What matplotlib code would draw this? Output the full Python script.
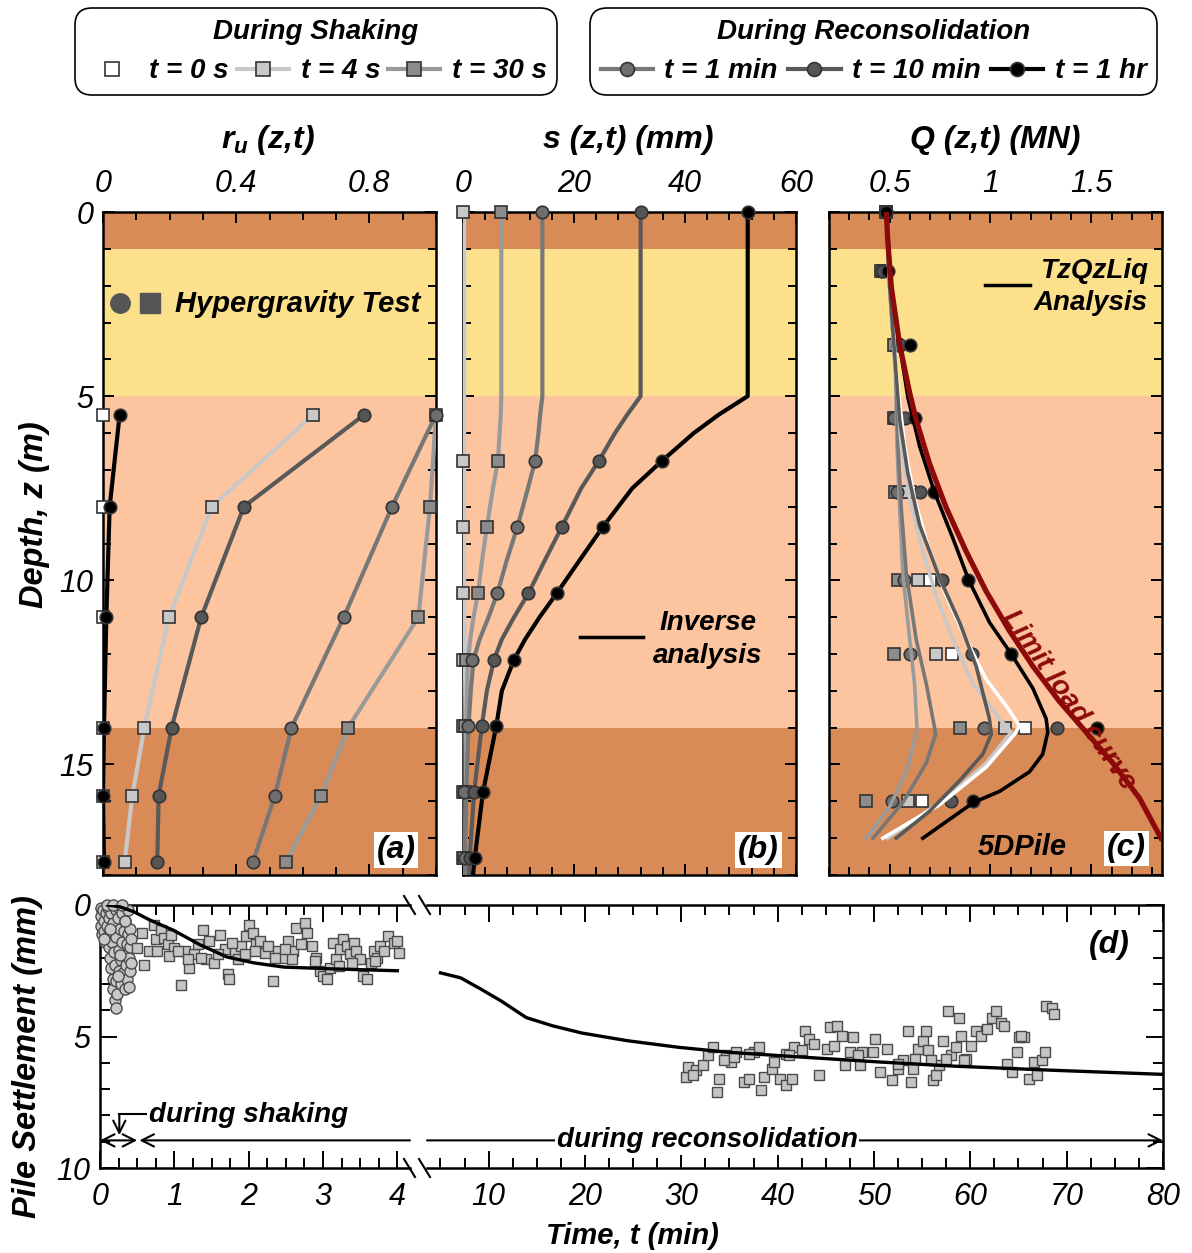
import matplotlib
matplotlib.use('Agg')
import matplotlib.pyplot as plt
from matplotlib.lines import Line2D
from matplotlib.ticker import MultipleLocator, FuncFormatter
from matplotlib.font_manager import FontProperties

plt.rcParams['font.family'] = ['Liberation Sans', 'DejaVu Sans']
plt.rcParams['font.style'] = 'italic'
plt.rcParams['mathtext.fontset'] = 'custom'
plt.rcParams['mathtext.it'] = 'Liberation Sans:italic:bold'
plt.rcParams['mathtext.rm'] = 'Liberation Sans:bold'
plt.rcParams['xtick.labelsize'] = 22
plt.rcParams['ytick.labelsize'] = 22

# ---- soil layers (depth, m) ----
layer_top = [0, 1, 5, 14]
layer_bot = [1, 5, 14, 18]
layer_color = ['#d98b57', '#fde08b', '#fcc5a0', '#d98b57']

# ---- (a) excess pore pressure ratio ----
depth_a = [5.5, 8.0, 11.0, 14.0, 15.85, 17.65]
ru_0s = [0.0, 0.0, 0.0, 0.0, 0.0, 0.0]
ru_4s = [0.632, 0.327, 0.198, 0.124, 0.088, 0.065]
ru_30s = [1.0, 0.982, 0.947, 0.736, 0.655, 0.549]
ru_1min = [1.0, 0.868, 0.723, 0.566, 0.516, 0.450]
ru_10min = [0.785, 0.423, 0.295, 0.206, 0.167, 0.163]
ru_1hr = [0.050, 0.020, 0.010, 0.003, 0.0, 0.003]

# ---- (b) settlement profiles ----
depth_b = [0, 6.75, 8.55, 10.35, 12.15, 13.95, 15.75, 17.55]
s_4s = [0.0, 0.0, 0.0, 0.0, 0.0, 0.0, 0.0, 0.0]
s_30s = [6.9, 6.3, 4.3, 2.7, 0.5, 0.3, 0.3, 0.2]
s_1min = [14.3, 13.0, 9.8, 6.2, 1.7, 0.9, 0.2, 0.3]
s_10min = [32.0, 24.5, 17.8, 11.8, 5.6, 3.4, 2.0, 1.2]
s_1hr = [51.3, 35.9, 25.2, 16.9, 9.2, 6.0, 3.6, 2.1]

inv_depth = [0, 5.0, 5.5, 6.0, 6.75, 7.5, 8.55, 9.5, 10.35, 11.0, 11.6, 12.15, 13.0, 13.95, 15.75, 17.55, 18.0]
inv_4s = [0.2, 0.2, 0.2, 0.2, 0.2, 0.2, 0.2, 0.2, 0.2, 0.25, 0.3, 0.35, 0.4, 0.45, 0.5, 0.5, 0.5]
inv_30s = [6.9, 6.9, 6.8, 6.6, 6.3, 5.4, 4.3, 3.4, 2.7, 1.9, 1.3, 0.9, 0.7, 0.6, 0.5, 0.4, 0.4]
inv_1min = [14.3, 14.3, 13.9, 13.6, 13.0, 11.7, 9.8, 7.8, 6.2, 4.6, 3.0, 1.9, 1.4, 1.0, 0.6, 0.4, 0.4]
inv_10min = [32.0, 32.0, 29.6, 27.4, 24.5, 21.3, 17.8, 14.6, 11.8, 9.2, 7.0, 5.6, 4.3, 3.4, 2.0, 1.2, 1.1]
inv_1hr = [51.3, 51.3, 46.1, 41.6, 35.9, 30.5, 25.2, 20.8, 16.9, 13.8, 11.2, 9.2, 7.0, 6.0, 3.6, 2.1, 1.8]

# ---- (c) axial load profiles ----
depth_c = [0, 1.6, 3.6, 5.6, 7.6, 10, 12, 14, 16]
q_0s = [0.48, 0.47, 0.53, 0.53, 0.60, 0.70, 0.81, 1.17, 0.66]
q_4s = [0.48, 0.47, 0.53, 0.53, 0.58, 0.64, 0.73, 1.07, 0.59]
q_30s = [0.48, 0.46, 0.52, 0.52, 0.525, 0.54, 0.52, 0.85, 0.385]
q_1min = [0.48, 0.46, 0.54, 0.52, 0.535, 0.57, 0.60, 0.97, 0.51]
q_10min = [0.48, 0.47, 0.55, 0.575, 0.65, 0.76, 0.91, 1.33, 0.805]
q_1hr = [0.48, 0.49, 0.60, 0.625, 0.72, 0.89, 1.10, 1.53, 0.915]

tz_1hr_z = [0, 2.05, 3.6, 5.04, 6.36, 7.61, 8.86, 10.0, 11.14, 12.0, 12.93, 13.76, 14.12, 14.72, 15.2, 15.73, 16.03, 17.0]
tz_1hr_q = [0.484, 0.509, 0.55, 0.591, 0.649, 0.723, 0.814, 0.893, 0.995, 1.103, 1.21, 1.276, 1.284, 1.259, 1.193, 1.045, 0.916, 0.665]
tz_10min_z = [0, 2.0, 4.44, 5.64, 7.07, 8.5, 9.94, 11.14, 12.33, 13.76, 14.18, 14.72, 15.44, 16.27, 17.0]
tz_10min_q = [0.484, 0.50, 0.533, 0.55, 0.59, 0.649, 0.748, 0.847, 0.929, 0.995, 1.004, 0.962, 0.847, 0.698, 0.533]
tz_0s_z = [0, 2.0, 4.44, 6.36, 7.79, 9.22, 10.42, 11.61, 12.69, 13.41, 13.95, 14.18, 15.07, 16.09, 17.0]
tz_0s_q = [0.484, 0.50, 0.535, 0.575, 0.624, 0.698, 0.781, 0.88, 0.979, 1.078, 1.144, 1.119, 0.979, 0.748, 0.467]
tz_4s_z = [0, 2.0, 4.44, 6.36, 7.79, 9.22, 10.42, 11.61, 12.81, 13.76, 14.12, 14.96, 15.91, 17.0]
tz_4s_q = [0.484, 0.50, 0.533, 0.558, 0.60, 0.665, 0.731, 0.814, 0.913, 1.045, 1.103, 0.979, 0.781, 0.49]
tz_1min_z = [0, 2.0, 4.44, 6.36, 8.03, 9.82, 11.61, 12.81, 14.0, 14.18, 14.96, 16.03, 17.0]
tz_1min_q = [0.484, 0.50, 0.533, 0.542, 0.558, 0.583, 0.632, 0.682, 0.723, 0.728, 0.682, 0.566, 0.418]
tz_30s_z = [0, 2.0, 4.44, 6.36, 8.03, 9.82, 11.61, 12.81, 14.0, 14.18, 15.2, 16.15, 17.0]
tz_30s_q = [0.484, 0.50, 0.530, 0.537, 0.55, 0.566, 0.60, 0.624, 0.636, 0.632, 0.583, 0.50, 0.385]
limit_z = [0, 0.86, 2.05, 3.6, 4.92, 5.64, 6.83, 8.03, 9.22, 10.3, 11.37, 12.33, 13.29, 14.12, 14.96, 15.91, 17.0]
limit_q = [0.484, 0.492, 0.509, 0.55, 0.60, 0.632, 0.698, 0.781, 0.88, 0.979, 1.094, 1.21, 1.342, 1.474, 1.606, 1.738, 1.845]

# ---- (d) pile settlement vs time (t min, s mm) ----
shake_pts = [
    (0.01, 0.1), (0.02, 0.4), (0.01, 0.8), (0.03, 1.1), (0.04, 0.2), (0.05, 0.6), (0.06, 1.0), (0.07, 1.4),
    (0.08, 0.3), (0.09, 0.8), (0.10, 1.2), (0.11, 0.1), (0.12, 0.5), (0.13, 1.0), (0.12, 1.6), (0.14, 2.0),
    (0.15, 0.3), (0.16, 1.4), (0.15, 2.4), (0.17, 2.8), (0.18, 0.7), (0.18, 3.2), (0.19, 1.8), (0.20, 3.6),
    (0.21, 3.9), (0.20, 2.3), (0.21, 0.2), (0.22, 1.2), (0.22, 2.9), (0.23, 3.4), (0.24, 0.5), (0.25, 1.7),
    (0.25, 2.5), (0.26, 0.1), (0.27, 0.9), (0.28, 2.1), (0.28, 3.0), (0.29, 1.4), (0.30, 0.3), (0.31, 2.6),
    (0.32, 1.0), (0.32, 1.9), (0.33, 3.2), (0.34, 0.6), (0.35, 2.3), (0.36, 1.5), (0.36, 2.8), (0.37, 0.2),
    (0.38, 1.1), (0.39, 2.0), (0.39, 3.1), (0.40, 1.6), (0.41, 0.9), (0.41, 2.5), (0.42, 1.3), (0.42, 2.2),
    (0.05, 1.3), (0.09, 0.0), (0.17, 0.0), (0.30, 0.0), (0.24, 2.7), (0.14, 0.9), (0.33, 0.6), (0.27, 1.9),
]
early_pts = [
    (0.50, 1.63), (0.57, 1.06), (0.59, 2.29), (0.66, 1.75), (0.73, 0.75), (0.75, 1.31), (0.82, 0.94), (0.86, 1.25),
    (0.91, 1.50), (0.95, 1.13), (1.00, 1.63), (1.09, 3.06), (1.14, 1.75), (1.20, 2.38), (1.27, 1.88), (1.32, 1.50),
    (1.38, 0.94), (1.43, 2.06), (1.47, 1.38), (1.54, 2.19), (1.61, 1.13), (1.68, 1.69), (1.72, 2.63), (1.74, 2.81),
    (1.81, 1.75), (1.86, 2.06), (1.90, 1.56), (1.97, 1.19), (2.01, 0.75), (2.06, 1.06), (2.10, 1.50), (2.15, 1.38),
    (2.22, 1.81), (2.26, 1.56), (2.33, 2.88), (2.40, 1.75), (2.46, 2.00), (2.53, 1.38), (2.60, 1.75), (2.64, 0.88),
    (2.70, 1.50), (2.76, 0.69), (2.78, 1.06), (2.85, 1.56), (2.91, 2.00), (2.96, 2.50), (3.00, 2.69), (3.05, 2.81),
    (3.09, 2.38), (3.14, 1.44), (3.18, 2.06), (3.23, 1.69), (3.27, 1.31), (3.32, 1.56), (3.36, 1.88), (3.41, 1.44),
    (3.45, 1.75), (3.50, 2.06), (3.54, 2.69), (3.59, 2.81), (3.64, 2.19), (3.68, 1.75), (3.73, 2.00), (3.77, 1.56),
    (3.82, 1.75), (3.88, 1.19), (3.95, 1.44), (4.00, 1.38), (4.02, 1.81), (1.18, 2.06), (1.36, 2.00), (1.59, 1.88),
    (1.95, 1.88), (2.35, 2.00), (2.58, 2.06), (2.89, 2.13), (3.39, 2.19), (3.70, 2.13), (0.77, 1.75), (0.93, 1.94),
    (1.05, 1.75), (1.77, 1.44), (2.08, 1.75), (2.49, 1.69), (3.21, 2.31),
]
late_pts = [
    (30.45, 6.54), (30.7, 6.16), (31.5, 6.29), (32.3, 6.10), (32.8, 5.72), (33.3, 5.41), (33.9, 6.60), (33.75, 7.10),
    (34.6, 5.72), (35.2, 5.97), (35.7, 5.60), (36.5, 6.73), (37.0, 6.60), (37.5, 5.60), (38.05, 5.41), (38.3, 7.04),
    (38.6, 6.54), (39.4, 6.23), (39.6, 5.97), (40.2, 6.60), (40.9, 6.86), (41.5, 6.60), (40.9, 5.66), (41.7, 5.41),
    (42.5, 5.53), (42.8, 4.78), (43.3, 5.09), (43.8, 5.28), (44.3, 6.48), (45.1, 5.47), (45.4, 4.65), (46.2, 4.59),
    (46.7, 4.97), (47.0, 6.10), (47.5, 5.60), (47.8, 5.03), (48.5, 6.10), (48.8, 5.60), (49.9, 5.60), (50.1, 5.09),
    (50.6, 6.35), (51.4, 5.47), (51.9, 6.67), (52.5, 6.23), (53.0, 5.91), (53.5, 4.78), (53.8, 6.73), (54.0, 6.23),
    (54.6, 5.47), (55.1, 5.16), (55.4, 4.78), (55.6, 5.53), (56.1, 6.67), (56.4, 6.48), (56.7, 6.10), (57.2, 5.16),
    (57.7, 4.03), (58.0, 5.72), (58.5, 5.41), (58.8, 4.28), (59.0, 4.97), (59.6, 5.85), (60.1, 5.35), (60.6, 4.78),
    (61.1, 4.97), (61.7, 4.72), (62.2, 4.28), (62.7, 4.03), (63.2, 4.47), (63.5, 4.59), (63.8, 6.04), (64.3, 6.35),
    (64.8, 5.60), (65.1, 5.03), (65.6, 5.03), (66.1, 6.60), (66.6, 5.97), (66.9, 6.48), (67.4, 5.91), (67.7, 5.60),
    (67.9, 3.84), (68.5, 3.90), (68.7, 4.15), (31.2, 6.48), (34.4, 5.91), (35.5, 5.79), (37.0, 5.66), (41.2, 5.72),
    (45.9, 5.35), (48.3, 5.72), (52.5, 6.04), (54.3, 5.85), (55.9, 5.91), (57.5, 5.85), (59.3, 5.91), (65.3, 4.97),
]
sim_early = [(0.1, 0.0), (0.27, 0.07), (0.45, 0.25), (0.67, 0.57), (0.98, 0.95), (1.35, 1.52), (1.71, 1.98),
             (2.07, 2.2), (2.47, 2.36), (3.14, 2.43), (4.0, 2.5)]
sim_late = [(5.0, 2.58), (7.1, 2.77), (9.2, 3.2), (11.3, 3.65), (13.9, 4.28), (16.6, 4.59), (19.7, 4.87),
            (24.4, 5.16), (29.7, 5.41), (34.9, 5.6), (42.8, 5.79), (50.6, 5.97), (58.5, 6.13), (69.0, 6.29),
            (80.0, 6.44)]

# ---- drawing ----
W, H = 1192, 1253
fig = plt.figure(figsize=(W / 100, H / 100), dpi=100)

def fx(x):
    return x / W

def fy(y):
    return 1 - y / H

def box(x0, y0, x1, y1):
    return [fx(x0), fy(y1), (x1 - x0) / W, (y1 - y0) / H]

BI = dict(fontweight='bold', fontstyle='italic')
fmt = FuncFormatter(lambda v, p: f'{v:g}')
EDGE = '#333333'
sty = {
    '0s': dict(line='white', face='white', m='s'),
    '4s': dict(line='#c8c8c8', face='#c8c8c8', m='s'),
    '30s': dict(line='#9a9a9a', face='#8c8c8c', m='s'),
    '1min': dict(line='#777777', face='#6e6e6e', m='o'),
    '10min': dict(line='#595959', face='#555555', m='o'),
    '1hr': dict(line='black', face='black', m='o'),
}

def profile_axis(ax, labelleft):
    for top, bot, col in zip(layer_top, layer_bot, layer_color):
        ax.axhspan(top, bot, color=col, lw=0, zorder=0)
    ax.set_ylim(18, 0)
    ax.yaxis.set_major_locator(MultipleLocator(5))
    ax.yaxis.set_minor_locator(MultipleLocator(1))
    ax.xaxis.set_major_formatter(fmt)
    ax.tick_params(axis='both', which='both', direction='in', top=True, bottom=True,
                   left=True, right=True, labeltop=True, labelbottom=False,
                   labelleft=labelleft, width=1.4, colors='black')
    ax.tick_params(which='major', length=8)
    ax.tick_params(which='minor', length=6)
    ax.tick_params(axis='x', pad=9)
    ax.tick_params(axis='y', pad=7)
    for sp in ax.spines.values():
        sp.set_linewidth(1.8)

def pts(ax, xs, zs, key, z=5, ms=9):
    s = sty[key]
    ax.plot(xs, zs, ls='none', marker=s['m'], mfc=s['face'], mec=EDGE, mew=1.2, ms=ms,
            zorder=z, clip_on=False)

# (a)
ax_a = fig.add_axes(box(103, 212, 436, 875))
profile_axis(ax_a, True)
ax_a.set_xlim(0, 1)
ax_a.xaxis.set_major_locator(MultipleLocator(0.4))
ax_a.xaxis.set_minor_locator(MultipleLocator(0.1))
for key, vals in [('4s', ru_4s), ('30s', ru_30s), ('1min', ru_1min), ('10min', ru_10min), ('1hr', ru_1hr)]:
    ax_a.plot(vals, depth_a, color=sty[key]['line'], lw=3, zorder=3)
for key, vals in [('0s', ru_0s), ('4s', ru_4s), ('30s', ru_30s), ('1min', ru_1min), ('10min', ru_10min), ('1hr', ru_1hr)]:
    pts(ax_a, vals, depth_a, key)
ax_a.plot([0.051], [2.47], marker='o', ms=14, mfc='#555555', mec='#555555', zorder=5)
ax_a.plot([0.141], [2.47], marker='s', ms=14, mfc='#555555', mec='#555555', zorder=5)
ax_a.text(0.216, 2.5, 'Hypergravity Test', fontsize=21, ha='left', va='center', **BI)
ax_a.text(0.88, 17.33, '(a)', fontsize=23, ha='center', va='center', zorder=6,
          bbox=dict(facecolor='white', edgecolor='none', pad=2), **BI)

# (b)
ax_b = fig.add_axes(box(463, 212, 796, 875))
profile_axis(ax_b, False)
ax_b.set_xlim(0, 60)
ax_b.xaxis.set_major_locator(MultipleLocator(20))
ax_b.xaxis.set_minor_locator(MultipleLocator(4))
for key, vals in [('4s', inv_4s), ('30s', inv_30s), ('1min', inv_1min), ('10min', inv_10min), ('1hr', inv_1hr)]:
    ax_b.plot(vals, inv_depth, color=sty[key]['line'], lw=3, zorder=3)
for key, vals in [('4s', s_4s), ('30s', s_30s), ('1min', s_1min), ('10min', s_10min), ('1hr', s_1hr)]:
    pts(ax_b, vals, depth_b, key)
ax_b.plot([21.1, 32.4], [11.55, 11.55], color='black', lw=2.5, zorder=4)
ax_b.text(44.1, 11.15, 'Inverse', fontsize=20, ha='center', va='center', **BI)
ax_b.text(44.1, 12.05, 'analysis', fontsize=20, ha='center', va='center', **BI)
ax_b.text(53.2, 17.33, '(b)', fontsize=23, ha='center', va='center', zorder=6,
          bbox=dict(facecolor='white', edgecolor='none', pad=2), **BI)

# (c)
ax_c = fig.add_axes(box(829, 212, 1162, 875))
profile_axis(ax_c, False)
ax_c.set_xlim(0.2, 1.85)
ax_c.xaxis.set_major_locator(MultipleLocator(0.5))
ax_c.xaxis.set_minor_locator(MultipleLocator(0.1))
for key, vals in [('0s', q_0s), ('4s', q_4s), ('30s', q_30s), ('1min', q_1min), ('10min', q_10min), ('1hr', q_1hr)]:
    pts(ax_c, vals, depth_c, key, z=3)
for key, qs, zs in [('30s', tz_30s_q, tz_30s_z), ('1min', tz_1min_q, tz_1min_z), ('4s', tz_4s_q, tz_4s_z),
                    ('0s', tz_0s_q, tz_0s_z), ('10min', tz_10min_q, tz_10min_z), ('1hr', tz_1hr_q, tz_1hr_z)]:
    ax_c.plot(qs, zs, color=sty[key]['line'], lw=2.6, zorder=4)
ax_c.plot(limit_q, limit_z, color='#8c0a0a', lw=3.8, zorder=5)
ax_c.plot([0.972, 1.195], [1.98, 1.98], color='black', lw=2.5, zorder=4)
ax_c.text(1.78, 1.6, 'TzQzLiq', fontsize=20, ha='right', va='center', **BI)
ax_c.text(1.78, 2.48, 'Analysis', fontsize=20, ha='right', va='center', **BI)
ax_c.text(1.39, 13.26, 'Limit load curve', fontsize=20, color='#8c0a0a', rotation=-55,
          ha='center', va='center', rotation_mode='anchor', zorder=6, **BI)
ax_c.text(1.16, 17.25, '5DPile', fontsize=21, ha='center', va='center', **BI)
ax_c.text(1.675, 17.28, '(c)', fontsize=23, ha='center', va='center', zorder=6,
          bbox=dict(facecolor='white', edgecolor='none', pad=2), **BI)

# titles above profiles
fig.text(fx(268), fy(140), r'$r_u$ (z,t)', fontsize=23, ha='center', va='center', **BI)
fig.text(fx(628), fy(140), 's (z,t) (mm)', fontsize=23, ha='center', va='center', **BI)
fig.text(fx(995), fy(140), 'Q (z,t) (MN)', fontsize=23, ha='center', va='center', **BI)
fig.text(fx(35), fy(515), 'Depth, z (m)', fontsize=23.5, rotation=90, ha='center', va='center', **BI)

# (d) broken time axis
ax_d1 = fig.add_axes(box(100, 905, 410, 1168))
ax_d2 = fig.add_axes(box(427, 905, 1163, 1168))
ax_d1.set_xlim(0, 4.17)
ax_d2.set_xlim(3.6, 80)
for ax in (ax_d1, ax_d2):
    ax.set_ylim(10, 0)
    ax.yaxis.set_major_locator(MultipleLocator(5))
    ax.yaxis.set_minor_locator(MultipleLocator(1))
    ax.xaxis.set_major_formatter(fmt)
    for sp in ax.spines.values():
        sp.set_linewidth(1.8)
ax_d1.xaxis.set_major_locator(MultipleLocator(1))
ax_d1.xaxis.set_minor_locator(MultipleLocator(0.25))
ax_d2.xaxis.set_major_locator(MultipleLocator(10))
ax_d2.xaxis.set_minor_locator(MultipleLocator(2.5))
ax_d1.spines['right'].set_visible(False)
ax_d2.spines['left'].set_visible(False)
ax_d1.tick_params(which='both', direction='in', top=True, bottom=True, left=True, right=False, width=1.4)
ax_d2.tick_params(which='both', direction='in', top=True, bottom=True, left=False, right=True,
                  labelleft=False, width=1.4)
for ax in (ax_d1, ax_d2):
    ax.tick_params(which='major', length=12)
    ax.tick_params(which='minor', length=7)
    ax.tick_params(axis='x', pad=10)
    ax.tick_params(axis='y', pad=7)

t, s = zip(*shake_pts)
ax_d1.plot(t, s, ls='none', marker='o', ms=8, mfc='#c8c8c8', mec='#4a4a4a', mew=1.0, zorder=3, clip_on=False)
t, s = zip(*early_pts)
ax_d1.plot(t, s, ls='none', marker='s', ms=7.5, mfc='#c4c4c4', mec='#4a4a4a', mew=1.0, zorder=3, clip_on=False)
t, s = zip(*sim_early)
ax_d1.plot(t, s, color='black', lw=2.4, zorder=4)
t, s = zip(*late_pts)
ax_d2.plot(t, s, ls='none', marker='s', ms=7.5, mfc='#c4c4c4', mec='#4a4a4a', mew=1.0, zorder=3)
t, s = zip(*sim_late)
ax_d2.plot(t, s, color='black', lw=2.4, zorder=4)

arr = dict(arrowstyle='->', lw=1.5, color='black', mutation_scale=22, shrinkA=0, shrinkB=0)
ax_d1.annotate('', xy=(0.0, 8.95), xytext=(0.5, 8.95),
               arrowprops=dict(arr, arrowstyle='<->'), annotation_clip=False)
ax_d1.annotate('', xy=(0.53, 8.95), xytext=(4.17, 8.95), arrowprops=arr, annotation_clip=False)
ax_d2.annotate('', xy=(80, 8.95), xytext=(3.6, 8.95), arrowprops=arr, annotation_clip=False)
ax_d1.plot([0.62, 0.26], [7.95, 7.95], color='black', lw=1.5)
ax_d1.annotate('', xy=(0.26, 8.75), xytext=(0.26, 7.95), arrowprops=arr)
ax_d1.text(0.66, 8.0, 'during shaking', fontsize=20, ha='left', va='center', **BI)
ax_d2.text(32.7, 8.95, 'during reconsolidation', fontsize=20, ha='center', va='center',
           bbox=dict(facecolor='white', edgecolor='none', pad=1), zorder=5, **BI)
ax_d2.text(74.4, 1.52, '(d)', fontsize=23, ha='center', va='center', **BI)

for y in (905, 1168):
    for x in (404, 419):
        fig.add_artist(Line2D([fx(x), fx(x + 11)], [fy(y - 9), fy(y + 9)], color='black', lw=1.5))

fig.text(fx(28), fy(1057), 'Pile Settlement (mm)', fontsize=23.5, rotation=90, ha='center', va='center', **BI)
fig.text(fx(632), fy(1236), 'Time, t (min)', fontsize=21, ha='center', va='center', **BI)

# legends
fp_leg = FontProperties(family='Liberation Sans', size=20, weight='bold', style='italic')

def handle(key, line=True):
    s = sty[key]
    return Line2D([], [], color=s['line'], lw=3 if line else 0, marker=s['m'], mfc=s['face'],
                  mec=EDGE, mew=1.2, ms=10)

legends = [
    ((75, 557), 'During Shaking', [handle('0s', False), handle('4s'), handle('30s')],
     ['t = 0 s', 't = 4 s', 't = 30 s']),
    ((590, 1157), 'During Reconsolidation', [handle('1min'), handle('10min'), handle('1hr')],
     ['t = 1 min', 't = 10 min', 't = 1 hr']),
]
for (x0, x1), title, hs, labs in legends:
    leg = fig.legend(hs, labs, loc='upper left', bbox_to_anchor=(fx(x0), fy(8), (x1 - x0) / W, 0),
                     mode='expand', ncol=3, title=title, prop=fp_leg, title_fontproperties=fp_leg,
                     frameon=True, fancybox=True, edgecolor='black', framealpha=1, handlelength=1.9,
                     handletextpad=0.4, columnspacing=0.3, borderpad=0.38, borderaxespad=0,
                     labelspacing=0.5)
    leg.get_frame().set_linewidth(1.2)
    leg.get_frame().set_boxstyle('round', pad=0, rounding_size=0.6)

fig.savefig('out.png', dpi=100)
